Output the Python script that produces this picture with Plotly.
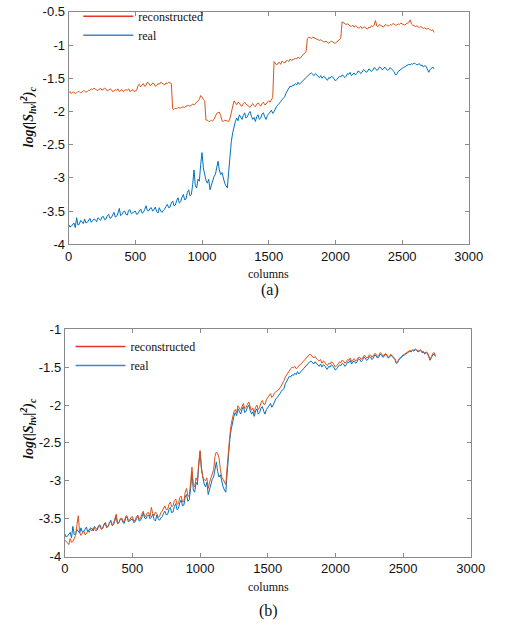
import plotly.graph_objects as go

# ---------------- data ----------------
columns = list(range(0, 2741, 10))

real = [
    -3.70, -3.74, -3.73, -3.71, -3.68, -3.75, -3.60, -3.71, -3.70, -3.64,
    -3.66, -3.69, -3.62, -3.68, -3.67, -3.63, -3.61, -3.67, -3.65, -3.62,
    -3.63, -3.66, -3.60, -3.63, -3.64, -3.59, -3.58, -3.63, -3.62, -3.57,
    -3.55, -3.61, -3.60, -3.56, -3.52, -3.59, -3.58, -3.53, -3.46, -3.57,
    -3.55, -3.51, -3.50, -3.55, -3.56, -3.49, -3.48, -3.54, -3.53, -3.51,
    -3.50, -3.55, -3.54, -3.50, -3.47, -3.53, -3.52, -3.48, -3.42, -3.49,
    -3.50, -3.46, -3.45, -3.50, -3.48, -3.44, -3.51, -3.53, -3.45, -3.50,
    -3.52, -3.49, -3.47, -3.43, -3.40, -3.45, -3.44, -3.38, -3.35, -3.42,
    -3.41, -3.34, -3.30, -3.38, -3.36, -3.29, -3.25, -3.33, -3.32, -3.22,
    -3.18, -3.27, -3.25, -3.10, -2.88, -3.12, -3.15, -3.02, -3.05, -2.80,
    -2.62, -2.85, -2.98, -3.04, -3.08, -3.02, -3.18, -3.10, -3.05, -2.98,
    -2.95, -2.85, -2.75, -2.88, -2.95, -2.92, -3.02, -3.08, -3.12, -3.15,
    -2.90, -2.62, -2.45, -2.32, -2.22, -2.15, -2.10, -2.14, -2.05, -2.08,
    -2.12, -2.06, -2.02, -2.10, -2.08, -2.03, -2.00, -2.07, -2.12, -2.09,
    -2.15, -2.08, -2.05, -2.12, -2.10, -2.04, -2.02, -2.08, -2.12, -2.06,
    -2.04, -2.01, -1.98, -2.03, -2.00, -1.95, -1.92, -1.90, -1.88, -1.85,
    -1.82, -1.80, -1.78, -1.72, -1.68, -1.65, -1.62, -1.63, -1.60, -1.61,
    -1.58, -1.60, -1.56, -1.59, -1.57, -1.54, -1.52, -1.50, -1.48, -1.46,
    -1.44, -1.43, -1.42, -1.44, -1.46, -1.43, -1.45, -1.47, -1.49, -1.46,
    -1.50, -1.47, -1.48, -1.51, -1.53, -1.49, -1.50, -1.47, -1.48, -1.51,
    -1.54, -1.52, -1.50, -1.47, -1.48, -1.45, -1.46, -1.49, -1.47, -1.43,
    -1.44, -1.41, -1.46, -1.43, -1.42, -1.45, -1.43, -1.39, -1.40, -1.43,
    -1.41, -1.37, -1.38, -1.41, -1.40, -1.36, -1.37, -1.40, -1.38, -1.34,
    -1.35, -1.38, -1.37, -1.33, -1.34, -1.37, -1.36, -1.33, -1.35, -1.38,
    -1.37, -1.34, -1.36, -1.38, -1.40, -1.45, -1.44, -1.40, -1.38, -1.36,
    -1.35, -1.34, -1.33, -1.31, -1.31, -1.29, -1.30, -1.28, -1.29, -1.27,
    -1.28, -1.30, -1.29, -1.28, -1.31, -1.30, -1.33, -1.31, -1.32, -1.36,
    -1.41, -1.37, -1.34, -1.33, -1.36,
]

reconstructed_a = [
    -1.72, -1.70, -1.73, -1.71, -1.71, -1.73, -1.72, -1.70, -1.70, -1.72,
    -1.71, -1.69, -1.69, -1.71, -1.70, -1.68, -1.68, -1.66, -1.67, -1.65,
    -1.66, -1.68, -1.68, -1.66, -1.65, -1.68, -1.67, -1.65, -1.66, -1.69,
    -1.68, -1.66, -1.67, -1.70, -1.69, -1.67, -1.68, -1.66, -1.70, -1.68,
    -1.67, -1.70, -1.69, -1.67, -1.68, -1.66, -1.70, -1.68, -1.67, -1.70,
    -1.69, -1.68, -1.61, -1.59, -1.63, -1.60, -1.58, -1.62, -1.61, -1.56,
    -1.57, -1.61, -1.60, -1.57, -1.58, -1.62, -1.61, -1.58, -1.59, -1.56,
    -1.57, -1.59, -1.60, -1.57, -1.58, -1.56, -1.57, -1.58, -1.96, -1.97,
    -1.95, -1.96, -1.94, -1.95, -1.95, -1.93, -1.93, -1.94, -1.92, -1.91,
    -1.91, -1.92, -1.90, -1.89, -1.90, -1.88, -1.86, -1.84, -1.82, -1.76,
    -1.78, -1.82, -1.84, -2.13, -2.13, -2.15, -2.15, -2.13, -2.14, -2.12,
    -2.08, -2.03, -2.02, -2.01, -2.06, -2.14, -2.15, -2.13, -2.14, -2.15,
    -2.15, -2.10, -2.02, -1.90, -1.84, -1.87, -1.90, -1.86, -1.87, -1.91,
    -1.92, -1.88, -1.86, -1.89, -1.90, -1.92, -1.94, -1.90, -1.88, -1.91,
    -1.93, -1.89, -1.87, -1.90, -1.92, -1.88, -1.86, -1.90, -1.89, -1.86,
    -1.84, -1.86, -1.82, -1.79, -1.25, -1.28, -1.30, -1.27, -1.26, -1.29,
    -1.24, -1.26, -1.27, -1.24, -1.23, -1.25, -1.21, -1.23, -1.22, -1.20,
    -1.20, -1.21, -1.18, -1.20, -1.19, -1.16, -1.14, -1.12, -1.10, -0.90,
    -0.88, -0.89, -0.90, -0.88, -0.89, -0.91, -0.91, -0.92, -0.93, -0.92,
    -0.94, -0.95, -0.95, -0.94, -0.96, -0.97, -0.96, -0.94, -0.95, -0.97,
    -0.97, -0.95, -0.93, -0.92, -0.90, -0.65, -0.66, -0.68, -0.69, -0.68,
    -0.70, -0.71, -0.72, -0.70, -0.73, -0.71, -0.72, -0.74, -0.74, -0.72,
    -0.75, -0.73, -0.73, -0.75, -0.76, -0.73, -0.74, -0.71, -0.72, -0.70,
    -0.63, -0.71, -0.72, -0.69, -0.70, -0.72, -0.73, -0.70, -0.69, -0.71,
    -0.71, -0.69, -0.70, -0.68, -0.68, -0.70, -0.70, -0.68, -0.69, -0.67,
    -0.68, -0.69, -0.70, -0.68, -0.67, -0.66, -0.62, -0.68, -0.70, -0.71,
    -0.72, -0.71, -0.73, -0.74, -0.72, -0.74, -0.75, -0.74, -0.76, -0.75,
    -0.75, -0.77, -0.78, -0.77, -0.81,
]

reconstructed_b = [
    -3.78, -3.80, -3.82, -3.84, -3.76, -3.81, -3.80, -3.76, -3.72, -3.58,
    -3.46, -3.68, -3.72, -3.69, -3.66, -3.71, -3.70, -3.66, -3.68, -3.64,
    -3.66, -3.62, -3.63, -3.66, -3.65, -3.60, -3.60, -3.64, -3.63, -3.58,
    -3.57, -3.62, -3.60, -3.55, -3.53, -3.58, -3.56, -3.50, -3.44, -3.56,
    -3.55, -3.50, -3.49, -3.53, -3.54, -3.47, -3.46, -3.52, -3.52, -3.48,
    -3.47, -3.53, -3.52, -3.47, -3.45, -3.51, -3.49, -3.44, -3.40, -3.47,
    -3.46, -3.42, -3.42, -3.47, -3.35, -3.43, -3.46, -3.41, -3.43, -3.48,
    -3.47, -3.42, -3.40, -3.36, -3.33, -3.38, -3.38, -3.31, -3.28, -3.34,
    -3.33, -3.26, -3.24, -3.31, -3.30, -3.22, -3.20, -3.28, -3.27, -3.15,
    -3.10, -3.20, -3.20, -3.02, -2.82, -3.06, -3.08, -2.96, -3.00, -2.76,
    -2.60, -2.82, -2.95, -2.98, -3.00, -2.96, -3.10, -3.02, -2.95, -2.90,
    -2.85, -2.68, -2.62, -2.64, -2.70, -2.85, -2.95, -2.98, -3.02, -3.05,
    -2.82, -2.58, -2.40, -2.25, -2.15, -2.09, -2.06, -2.10, -2.01, -2.04,
    -2.07, -2.02, -1.98, -2.05, -2.03, -1.99, -1.96, -2.02, -2.07, -2.04,
    -2.10, -2.03, -2.00, -2.06, -2.03, -1.97, -1.94, -1.99, -1.99, -1.93,
    -1.90, -1.88, -1.85, -1.90, -1.88, -1.84, -1.82, -1.81, -1.80, -1.78,
    -1.75, -1.71, -1.68, -1.63, -1.60, -1.57, -1.55, -1.52, -1.50, -1.51,
    -1.49, -1.52, -1.51, -1.48, -1.47, -1.45, -1.43, -1.40, -1.38, -1.36,
    -1.35, -1.33, -1.34, -1.36, -1.38, -1.36, -1.39, -1.40, -1.42, -1.40,
    -1.45, -1.42, -1.43, -1.46, -1.48, -1.45, -1.46, -1.43, -1.44, -1.47,
    -1.50, -1.48, -1.46, -1.43, -1.44, -1.41, -1.42, -1.45, -1.43, -1.40,
    -1.41, -1.38, -1.43, -1.40, -1.39, -1.42, -1.40, -1.37, -1.37, -1.40,
    -1.38, -1.35, -1.35, -1.38, -1.37, -1.34, -1.34, -1.37, -1.35, -1.32,
    -1.33, -1.36, -1.35, -1.31, -1.32, -1.35, -1.34, -1.32, -1.34, -1.37,
    -1.36, -1.33, -1.35, -1.37, -1.39, -1.44, -1.43, -1.39, -1.37, -1.35,
    -1.34, -1.33, -1.32, -1.30, -1.30, -1.28, -1.29, -1.27, -1.28, -1.26,
    -1.27, -1.29, -1.28, -1.27, -1.30, -1.29, -1.32, -1.30, -1.31, -1.35,
    -1.40, -1.36, -1.32, -1.31, -1.35,
]

assert len(real) == len(columns) == len(reconstructed_a) == len(reconstructed_b)

x_ticks = [0, 500, 1000, 1500, 2000, 2500, 3000]
x_ticktext = ["0", "500", "1000", "1500", "2000", "2500", "3000"]
ya_ticks = [-4, -3.5, -3, -2.5, -2, -1.5, -1, -0.5]
ya_ticktext = ["-4", "-3.5", "-3", "-2.5", "-2", "-1.5", "-1", "-0.5"]
yb_ticks = [-4, -3.5, -3, -2.5, -2, -1.5, -1]
yb_ticktext = ["-4", "-3.5", "-3", "-2.5", "-2", "-1.5", "-1"]

# ---------------- style ----------------
ORANGE = "#D95319"
BLUE = "#0072BD"
LEG_RED = "#E8352A"
LEG_BLUE = "#3F86D0"
SERIF = "Liberation Serif, Times New Roman, serif"
SANS = "Liberation Sans, Arial, sans-serif"
W, H = 505, 634

fig = go.Figure()

# top panel
fig.add_trace(go.Scatter(x=columns, y=reconstructed_a, mode="lines",
                         line=dict(color=ORANGE, width=1), showlegend=False,
                         xaxis="x", yaxis="y"))
fig.add_trace(go.Scatter(x=columns, y=real, mode="lines",
                         line=dict(color=BLUE, width=1), showlegend=False,
                         xaxis="x", yaxis="y"))
fig.add_trace(go.Scatter(x=[None], y=[None], mode="lines", name="reconstructed",
                         line=dict(color=LEG_RED, width=1.5), legend="legend",
                         xaxis="x", yaxis="y"))
fig.add_trace(go.Scatter(x=[None], y=[None], mode="lines", name="real",
                         line=dict(color=LEG_BLUE, width=1.5), legend="legend",
                         xaxis="x", yaxis="y"))

# bottom panel
fig.add_trace(go.Scatter(x=columns, y=real, mode="lines",
                         line=dict(color=BLUE, width=1), showlegend=False,
                         xaxis="x2", yaxis="y2"))
fig.add_trace(go.Scatter(x=columns, y=reconstructed_b, mode="lines",
                         line=dict(color=ORANGE, width=1), showlegend=False,
                         xaxis="x2", yaxis="y2"))
fig.add_trace(go.Scatter(x=[None], y=[None], mode="lines", name="reconstructed",
                         line=dict(color=LEG_RED, width=1.5), legend="legend2",
                         xaxis="x2", yaxis="y2"))
fig.add_trace(go.Scatter(x=[None], y=[None], mode="lines", name="real",
                         line=dict(color=LEG_BLUE, width=1.5), legend="legend2",
                         xaxis="x2", yaxis="y2"))

def px_x(p):
    return p / W

def px_y(p):
    return 1 - p / H

axis_common = dict(
    showgrid=False, zeroline=False, showline=True, linecolor="#8a8a8a",
    linewidth=1, mirror="ticks", ticks="inside", ticklen=4, tickcolor="#8a8a8a",
    tickfont=dict(family=SANS, size=13, color="#111"),
)

legend_common = dict(xanchor="left", yanchor="top", itemwidth=50,
                     bgcolor="rgba(0,0,0,0)",
                     font=dict(family=SERIF, size=12, color="#111"))

fig.update_layout(
    width=W, height=H, margin=dict(l=0, r=0, t=0, b=0),
    paper_bgcolor="white", plot_bgcolor="white",
    xaxis=dict(domain=[px_x(67), px_x(482)], range=[0, 3000], anchor="y",
               tickvals=x_ticks, ticktext=x_ticktext, **axis_common),
    yaxis=dict(domain=[px_y(243), px_y(5)], range=[-4, -0.5], anchor="x",
               tickvals=ya_ticks, ticktext=ya_ticktext, **axis_common),
    xaxis2=dict(domain=[px_x(63), px_x(484)], range=[0, 3000], anchor="y2",
                tickvals=x_ticks, ticktext=x_ticktext, **axis_common),
    yaxis2=dict(domain=[px_y(563), px_y(330)], range=[-4, -1], anchor="x2",
                tickvals=yb_ticks, ticktext=yb_ticktext, **axis_common),
    legend=dict(x=px_x(77), y=px_y(-5.5), **legend_common),
    legend2=dict(x=px_x(69), y=px_y(333), **legend_common),
    showlegend=True,
)

ylab = "<b><i>log(|S<sub>hv</sub>|<sup>2</sup>)<sub>c</sub></i></b>"
annotations = [
    dict(text="columns", x=px_x(274), y=px_y(273), showarrow=False,
         font=dict(family=SERIF, size=12, color="#111")),
    dict(text="(a)", x=px_x(276), y=px_y(290), showarrow=False,
         font=dict(family=SERIF, size=16, color="#111")),
    dict(text="columns", x=px_x(274), y=px_y(594), showarrow=False,
         font=dict(family=SERIF, size=12, color="#111")),
    dict(text="(b)", x=px_x(274), y=px_y(619), showarrow=False,
         font=dict(family=SERIF, size=16, color="#111")),
    dict(text=ylab, x=px_x(25), y=px_y(113), textangle=-90, showarrow=False,
         font=dict(family=SERIF, size=14, color="#111")),
    dict(text=ylab, x=px_x(25), y=px_y(432), textangle=-90, showarrow=False,
         font=dict(family=SERIF, size=14, color="#111")),
]
for a in annotations:
    a.update(xref="paper", yref="paper", xanchor="center", yanchor="middle")
fig.update_layout(annotations=annotations)

fig.write_html("out.html")
